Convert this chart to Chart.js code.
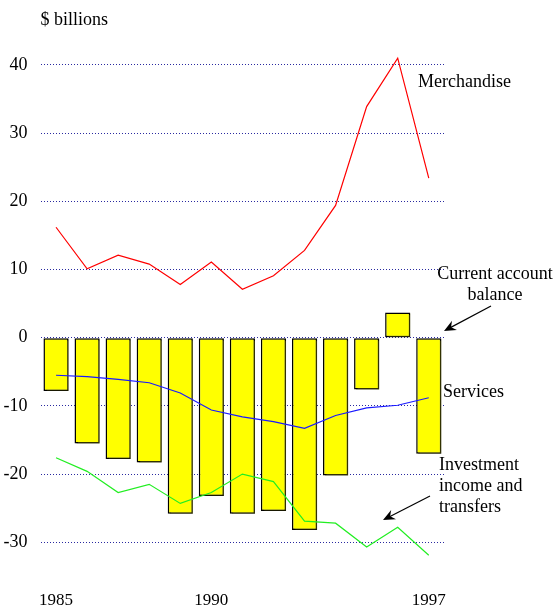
<!DOCTYPE html>
<html>
<head>
<meta charset="utf-8">
<script src="https://cdn.jsdelivr.net/npm/chart.js@4/dist/chart.umd.min.js"></script>
<style>
  body { margin: 0; background: #fff; }
  canvas { display: block; }
</style>
</head>
<body>
<canvas id="balanceChart" width="555" height="607"></canvas>
<script>
// Chart data
const years = ["1985", "1986", "1987", "1988", "1989", "1990", "1991",
               "1992", "1993", "1994", "1995", "1996", "1997"];
const shownYears = ["1985", "1990", "1997"];
const currentAccount = [-7.8, -15.5, -17.8, -18.3, -25.8, -23.2, -25.8,
                        -25.4, -28.2, -20.2, -7.6, 3.7, -17.0];
const merchandise = [16.2, 10.1, 12.1, 10.8, 7.8, 11.1, 7.1,
                     9.1, 12.8, 19.4, 33.9, 41.0, 23.4];
const services = [-5.5, -5.7, -6.1, -6.6, -8.1, -10.6, -11.6,
                  -12.3, -13.3, -11.4, -10.3, -9.9, -8.8];
const investment = [-17.6, -19.6, -22.7, -21.5, -24.3, -22.7, -20.0,
                    -21.1, -26.9, -27.2, -30.7, -27.8, -31.9];
const yTicks = [-30, -20, -10, 0, 10, 20, 30, 40];

const serif = "'Liberation Serif', 'Times New Roman', serif";

// Arrow with filled head
function drawArrow(ctx, x1, y1, x2, y2) {
    const ang = Math.atan2(y2 - y1, x2 - x1);
    const len = 13, spread = 0.42;
    ctx.save();
    ctx.strokeStyle = "#000";
    ctx.fillStyle = "#000";
    ctx.lineWidth = 1.2;
    ctx.beginPath();
    ctx.moveTo(x1, y1);
    ctx.lineTo(x2 - 4 * Math.cos(ang), y2 - 4 * Math.sin(ang));
    ctx.stroke();
    ctx.beginPath();
    ctx.moveTo(x2, y2);
    ctx.lineTo(x2 - len * Math.cos(ang - spread), y2 - len * Math.sin(ang - spread));
    ctx.lineTo(x2 - 8 * Math.cos(ang), y2 - 8 * Math.sin(ang));
    ctx.lineTo(x2 - len * Math.cos(ang + spread), y2 - len * Math.sin(ang + spread));
    ctx.closePath();
    ctx.fill();
    ctx.restore();
}

// Labels and arrows beside the plot
const annotations = {
    id: "annotations",
    afterDraw(chart) {
        const ctx = chart.ctx;
        ctx.save();
        ctx.fillStyle = "#000";
        ctx.font = "18px " + serif;
        ctx.textBaseline = "middle";
        ctx.textAlign = "left";
        ctx.fillText("$ billions", 40.5, 20);
        ctx.fillText("Merchandise", 418, 82);
        ctx.fillText("Services", 443, 392);
        ctx.fillText("Investment", 439, 465);
        ctx.fillText("income and", 439, 486);
        ctx.fillText("transfers", 439, 507);
        ctx.textAlign = "center";
        ctx.fillText("Current account", 495, 274);
        ctx.fillText("balance", 495, 295);
        ctx.restore();
        drawArrow(ctx, 491, 306, 444, 331);
        drawArrow(ctx, 430, 496, 383, 520);
    }
};

// Soft shadow behind bars
const barShadow = {
    id: "barShadow",
    beforeDatasetDraw(chart, args) {
        if (args.meta.type !== "bar") return;
        const ctx = chart.ctx;
        ctx.save();
        ctx.shadowColor = "rgba(90,90,0,0.55)";
        ctx.shadowOffsetX = 2;
        ctx.shadowOffsetY = 1;
        ctx.shadowBlur = 0;
    },
    afterDatasetDraw(chart, args) {
        if (args.meta.type !== "bar") return;
        chart.ctx.restore();
    }
};

new Chart(document.getElementById("balanceChart"), {
    data: {
        labels: years,
        datasets: [
            {
                type: "line",
                label: "Merchandise",
                data: merchandise,
                borderColor: "#ff0000",
                borderWidth: 1.2,
                pointRadius: 0,
                tension: 0,
                order: 0
            },
            {
                type: "line",
                label: "Services",
                data: services,
                borderColor: "#1a1aff",
                borderWidth: 1.2,
                pointRadius: 0,
                tension: 0,
                order: 0
            },
            {
                type: "line",
                label: "Investment income and transfers",
                data: investment,
                borderColor: "#22ee22",
                borderWidth: 1.2,
                pointRadius: 0,
                tension: 0,
                order: 0
            },
            {
                type: "bar",
                label: "Current account balance",
                data: currentAccount,
                backgroundColor: "#ffff00",
                borderColor: "#000",
                borderWidth: 1.5,
                borderSkipped: false,
                categoryPercentage: 1,
                barPercentage: 0.81,
                order: 1
            }
        ]
    },
    options: {
        responsive: false,
        animation: false,
        layout: { padding: { top: 37.7, right: 110.7, left: 0, bottom: 0 } },
        plugins: {
            legend: { display: false },
            tooltip: { enabled: false }
        },
        scales: {
            x: {
                offset: true,
                grid: { display: false },
                border: { display: false },
                afterFit: function (scale) { scale.height = 21.7; },
                ticks: {
                    autoSkip: false,
                    maxRotation: 0,
                    padding: -1,
                    color: "#000",
                    font: { family: serif, size: 17 },
                    callback: function (value) {
                        const label = this.getLabelForValue(value);
                        return shownYears.includes(label) ? label : "";
                    }
                }
            },
            y: {
                min: -36,
                max: 44,
                afterFit: function (scale) { scale.width = 40.5; },
                afterBuildTicks: function (scale) {
                    scale.ticks = yTicks.map(v => ({ value: v }));
                },
                border: { display: false, dash: [1, 2] },
                grid: {
                    color: "#2a2aa0",
                    lineWidth: 1,
                    drawTicks: false
                },
                ticks: {
                    padding: 13,
                    color: "#000",
                    font: { family: serif, size: 18 }
                }
            }
        }
    },
    plugins: [barShadow, annotations]
});
</script>
</body>
</html>
